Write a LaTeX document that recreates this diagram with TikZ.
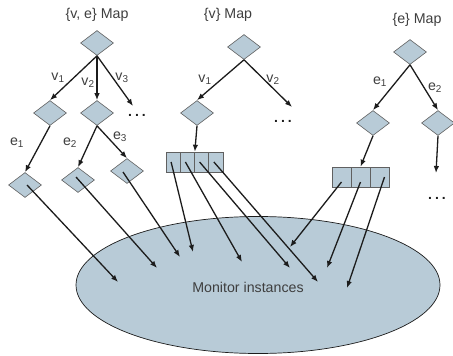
\documentclass[tikz,border=0pt]{standalone}
\usepackage{fontspec}
\setmainfont{Liberation Sans}
\usetikzlibrary{shapes.geometric,arrows.meta,calc}
\definecolor{fillblue}{RGB}{184,203,215}
\definecolor{ink}{RGB}{28,28,28}
\begin{document}
\begin{tikzpicture}[x=1pt,y=-1pt,
 dia/.style={diamond,draw=ink!70,fill=fillblue,line width=0.6pt,minimum width=33pt,minimum height=25pt,inner sep=0pt},
 cell/.style={rectangle,draw=ink!70,fill=fillblue,line width=0.6pt,minimum height=20pt,inner sep=0pt},
 con/.style={draw=ink,line width=1.3pt,-{Latex[length=7pt,width=5.5pt]}},
 lbl/.style={font=\fontsize{14.2}{16}\selectfont,text=ink!85,inner sep=0pt},
 dots/.style={font=\fontsize{14}{15}\selectfont\bfseries,text=ink,inner sep=0pt},
]
\useasboundingbox (0,0) rectangle (453,356);
% ellipse
\node[ellipse,draw=ink,fill=fillblue,line width=0.7pt,minimum width=364pt,minimum height=137pt,inner sep=0pt] (mon) at (258,285) {};
\node[lbl] (montext) at (248,287) {Monitor instances};
% titles
\node[lbl] (t1) at (97,15) {\{v, e\} Map};
\node[lbl] (t2) at (228,15) {\{v\} Map};
\node[lbl] (t3) at (417,20) {\{e\} Map};
% {v,e} tree
\node[dia] (a0) at (97,43) {};
\node[dia] (a1) at (50,113) {};
\node[dia] (a2) at (97,113) {};
\node[dia] (a3) at (25,185) {};
\node[dia] (a4) at (78,180) {};
\node[dia] (a5) at (127,171) {};
\node[dots] (d1) at (137,115) {.\hspace{3pt}.\hspace{3pt}.};
\coordinate (q1) at (133,106);
% {v} tree
\node[dia] (b0) at (244,47) {};
\node[dia] (b1) at (197,113) {};
\node[dots] (d2) at (283,121) {.\hspace{3pt}.\hspace{3pt}.};
\coordinate (q2) at (292,107);
\node[cell,minimum width=14.25pt] (v1c) at (173.1,162) {};
\node[cell,minimum width=14.25pt] (v2c) at (187.4,162) {};
\node[cell,minimum width=14.25pt] (v3c) at (201.6,162) {};
\node[cell,minimum width=14.25pt] (v4c) at (215.9,162) {};
% {e} tree
\node[dia] (c0) at (410,52) {};
\node[dia] (c1) at (373,123) {};
\node[dia] (c2) at (438,123) {};
\node[dots] (d3) at (437,198) {.\hspace{3pt}.\hspace{3pt}.};
\coordinate (q3) at (436,173);
\node[cell,minimum width=19pt] (e1c) at (341.5,177) {};
\node[cell,minimum width=19pt] (e2c) at (360.5,177) {};
\node[cell,minimum width=19pt] (e3c) at (379.5,177) {};
% labels
\node[lbl] (lv1) at (58,78) {v\textsubscript{1}};
\node[lbl] (lv2) at (88,83) {v\textsubscript{2}};
\node[lbl] (lv3) at (122,78) {v\textsubscript{3}};
\node[lbl] (le1) at (17,143) {e\textsubscript{1}};
\node[lbl] (le2) at (70,143) {e\textsubscript{2}};
\node[lbl] (le3) at (120,137) {e\textsubscript{3}};
\node[lbl] (lw1) at (205,80) {v\textsubscript{1}};
\node[lbl] (lw2) at (273,80) {v\textsubscript{2}};
\node[lbl] (lf1) at (380,82) {e\textsubscript{1}};
\node[lbl] (lf2) at (435,88) {e\textsubscript{2}};
% ellipse targets
\coordinate (p1) at (118,282);
\coordinate (p2) at (157,268);
\coordinate (p3) at (180,257);
\coordinate (p4) at (193,252);
\coordinate (p5) at (242,262);
\coordinate (p6) at (290,268);
\coordinate (p7) at (290,247);
\coordinate (p8) at (318,282);
\coordinate (p9) at (327,268);
\coordinate (p10) at (347,288);
% connectors
\draw[con] (a0.south) -- (a1.north);
\draw[con] (a0.south) -- (a2.north);
\draw[con] (a0.south) -- (q1);
\draw[con] (a1.south) -- (a3.north);
\draw[con] (a2.south) -- (a4.north);
\draw[con] (a2.south) -- (a5.north);
\draw[con] (b0.south) -- (b1.north);
\draw[con] (b0.south) -- (q2);
\draw[con] (b1.south) -- (v2c.north east);
\draw[con] (c0.south) -- (c1.north);
\draw[con] (c0.south) -- (c2.north);
\draw[con] (c1.south) -- (e2c.north);
\draw[con] (c2.south) -- (q3);
\draw[con] ($(a3.center)+(2,0)$) -- (p1);
\draw[con] ($(a4.center)+(-2,-3)$) -- (p2);
\draw[con] ($(a5.center)+(-4,1)$) -- (p3);
\draw[con] ($(v1c.center)+(-2,0)$) -- (p4);
\draw[con] ($(v2c.center)+(-2,0)$) -- (p5);
\draw[con] ($(v3c.center)+(-2,0)$) -- (p6);
\draw[con] ($(v4c.center)+(-2,0)$) -- (p8);
\draw[con] ($(e1c.center)+(0,5)$) -- (p7);
\draw[con] ($(e2c.center)+(0,5)$) -- (p9);
\draw[con] ($(e3c.center)+(5,0)$) -- (p10);
\end{tikzpicture}
\end{document}
